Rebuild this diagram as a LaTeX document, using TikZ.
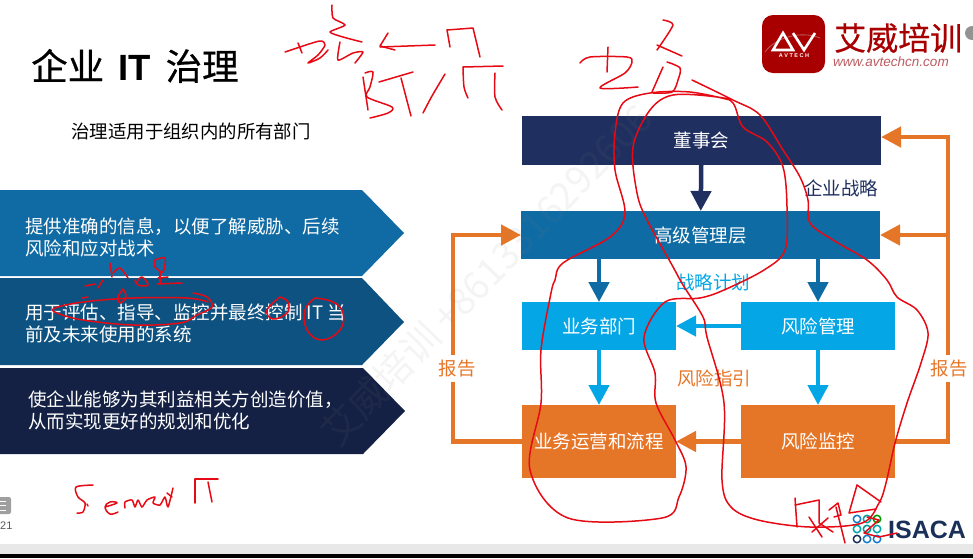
\documentclass[tikz,border=0pt]{standalone}
\usepackage{fontspec}
\setmainfont{Noto Sans CJK SC}
\newfontfamily\latinfont{Liberation Sans}
\newfontfamily\titlefont[FakeBold=0.6]{Noto Sans CJK SC}
\usetikzlibrary{arrows.meta,positioning}
\definecolor{avnavy}{RGB}{31,47,95}
\definecolor{avblue}{RGB}{15,107,163}
\definecolor{avcyan}{RGB}{5,166,229}
\definecolor{avorange}{RGB}{229,118,40}
\definecolor{chevblue}{RGB}{16,106,163}
\definecolor{chevteal}{RGB}{13,82,128}
\definecolor{chevnavy}{RGB}{21,33,68}
\definecolor{avred}{RGB}{168,0,0}
\definecolor{avurl}{RGB}{188,90,95}
\definecolor{isacanavy}{RGB}{27,48,88}
\definecolor{inkred}{RGB}{230,10,20}
\tikzstyle{boxnode} = [minimum width=154pt,inner sep=0pt,outer sep=0pt,text=white,text height=16pt,text depth=2pt,font=\fontsize{18.5}{22}\selectfont]
\tikzstyle{chevtext} = [anchor=west,align=left,inner sep=0pt,text=white,font=\fontsize{18.5}{22}\selectfont]
\tikzstyle{flowlabel} = [inner sep=0pt,font=\fontsize{18.5}{22}\selectfont]
\tikzstyle{arrow} = [line width=4.5pt,-{Triangle[length=20pt,width=20pt]}]
\tikzstyle{busline} = [line width=4.5pt,avorange]
\tikzstyle{ink} = [inkred,line width=1.5pt,line cap=round,line join=round]

\begin{document}
\begin{tikzpicture}[x=1pt,y=-1pt]
\useasboundingbox (0,0) rectangle (973,558);

% Title
\node[inner sep=0pt,anchor=west,font=\fontsize{36.5}{40}\selectfont] (title) at (31,66) {\titlefont 企业\hspace{14pt}{\latinfont\bfseries IT}\hspace{15pt}治理};
\node[inner sep=0pt,font=\fontsize{18.4}{22}\selectfont] (subtitle) at (191,132) {治理适用于组织内的所有部门};

% Chevrons
\fill[chevblue] (0,190) -- (362,190) -- (404,233) -- (362,276) -- (0,276) -- cycle;
\fill[chevteal] (0,278) -- (362,278) -- (404,322) -- (362,365) -- (0,365) -- cycle;
\fill[chevnavy] (0,368) -- (363,368) -- (405,411) -- (363,454) -- (0,454) -- cycle;
\node[chevtext] (chevone) at (25,237) {提供准确的信息，以便了解威胁、后续\\风险和应对战术};
\node[chevtext] (chevtwo) at (25,323) {用于评估、指导、监控并最终控制 IT 当\\前及未来使用的系统};
\node[chevtext] (chevthree) at (28,410) {使企业能够为其利益相关方创造价值，\\从而实现更好的规划和优化};

% Boxes
\node[boxnode,fill=avnavy,minimum width=359pt,minimum height=49pt] (board) at (701.5,140.5) {董事会};
\node[boxnode,fill=avblue,minimum width=359pt,minimum height=48pt] (senior) at (700.5,235) {高级管理层};
\node[boxnode,fill=avcyan,minimum height=48pt] (bizunit) at (599,326) {业务部门};
\node[boxnode,fill=avcyan,minimum height=48pt] (riskmgmt) at (818,326) {风险管理};
\node[boxnode,fill=avorange,minimum height=73pt] (bizops) at (599,441.5) {业务运营和流程};
\node[boxnode,fill=avorange,minimum height=73pt] (riskmon) at (818,441.5) {风险监控};

% Labels
\node[flowlabel,avnavy] (strategy) at (841,188) {企业战略};
\node[flowlabel,avcyan] (plan) at (713,282) {战略计划};
\node[flowlabel,avorange] (guide) at (714,378) {风险指引};
\node[flowlabel,avorange] (reportl) at (457,369) {报告};
\node[flowlabel,avorange] (reportr) at (949,369) {报告};

% Inner arrows
\draw[arrow,avnavy] (board) -- (senior);
\draw[arrow,avblue] (bizunit |- senior.south) -- (bizunit);
\draw[arrow,avblue] (riskmgmt |- senior.south) -- (riskmgmt);
\draw[arrow,avcyan] (riskmgmt) -- (bizunit);
\draw[arrow,avcyan] (bizunit) -- (bizops);
\draw[arrow,avcyan] (riskmgmt) -- (riskmon);
\draw[arrow,avorange] (riskmon) -- (bizops);

% Report loops
\coordinate (leftlow) at (453,382);
\coordinate (lefthigh) at (453,355);
\coordinate (rightlow) at (948,382);
\coordinate (righthigh) at (948,355);
\draw[busline,line join=miter] (bizops.west) -| (leftlow);
\draw[arrow,avorange] (lefthigh) |- (senior.west);
\draw[busline,line join=miter] (riskmon.east) -| (rightlow);
\draw[arrow,avorange] (righthigh) |- ([yshift=3.5pt]board.east);
\draw[arrow,avorange] (righthigh |- senior.east) -- (senior.east);

% Watermark
\node[rotate=46,inner sep=0pt,gray,opacity=0.09,font=\fontsize{38}{40}\selectfont] (mark) at (486,275) {艾威培训 +8613316292606};

% AVTECH logo
\fill[avred,rounded corners=11pt] (762,15) rectangle (825,73);
\draw[white,line width=2.6pt,line join=miter] (773,50) -- (783,33) -- (793,50) -- cycle;
\draw[white,line width=2.6pt] (793,33) -- (804,50) -- (815,33);
\draw[white,opacity=0.35,line width=0.8pt] (765,52) .. controls (775,38) and (800,30) .. (820,38);
\node[white,inner sep=0pt,font=\latinfont\fontsize{5.5}{6}\selectfont\bfseries] (avtech) at (794,56) {A V T E C H};
\node[avred,inner sep=0pt,anchor=west,font=\fontsize{32}{34}\selectfont] (brand) at (834,38) {\titlefont 艾威培训};
\node[avurl,inner sep=0pt,anchor=west,font=\latinfont\fontsize{13.5}{15}\selectfont\itshape] (url) at (833,62) {www.avtechcn.com};
\fill[gray!85] (972,33) circle (7);

% ISACA logo
\foreach \x/\colA/\colB/\colC in {857/cyan!60!blue/teal!70!cyan/isacanavy,867/teal!70!cyan/teal!80!cyan/cyan!60!blue,877/green!60!black/teal!70!cyan/cyan!60!blue} {
    \draw[\colA,line width=1.5pt] (\x,519) circle (3.7);
    \draw[\colB,line width=1.5pt] (\x,529) circle (3.7);
    \draw[\colC,line width=1.5pt] (\x,539) circle (3.7);
}
\node[isacanavy,inner sep=0pt,anchor=west,font=\latinfont\fontsize{25}{28}\selectfont\bfseries] (isaca) at (888,530) {ISACA};

% Page number
\fill[gray!75,rounded corners=2pt] (-4,497) rectangle (11,514);
\draw[white,line width=0.8pt] (0,501) -- (6,501) (0,505.5) -- (6,505.5) (0,510) -- (6,510);
\node[inner sep=0pt,anchor=west,gray!70!black,font=\latinfont\fontsize{11}{12}\selectfont] (pagenum) at (0,526) {21};

% Window edge
\fill[black!9] (0,544) rectangle (973,554);
\fill[black] (0,554) rectangle (973,558);

% Red ink: long loop
\draw[ink] plot[smooth,tension=0.55] coordinates {(692,80) (733,100) (760,115) (783,150) (800,177) (808,200) (810,223) (833,240) (867,260) (887,280) (897,297) (917,310) (928,333) (921,363) (907,403) (895,443) (886,483) (879,503) (862,523) (810,527) (758,520) (731,507) (722,480) (724,403) (707,337) (703,317) (683,285) (672,265) (647,220) (637,193) (633,147) (650,110) (673,95) (717,97) (733,103) (743,127) (767,142) (783,167) (787,207) (785,250) (764,270) (724,290) (700,298) (665,302) (644,337) (655,373) (656,403) (675,440) (686,467) (679,497) (662,518) (568,518) (530,470) (541,403) (541,350) (551,293) (555,280) (563,263) (610,237) (625,213) (615,170) (615,133) (623,103) (650,93) (690,92) (730,100)};

% Red ink: top left note
\draw[ink] plot[smooth,tension=0.5] coordinates {(285,52) (300,47) (320,41) (325,45) (318,55) (308,63) (320,58) (328,50)};
\draw[ink] (298,43) -- (302,53);
\draw[ink] plot[smooth,tension=0.4] coordinates {(332,5) (333,18) (345,25) (330,32) (343,37) (362,42)};
\draw[ink] plot[smooth,tension=0.4] coordinates {(340,42) (338,60) (353,53) (363,52) (355,63)};
\draw[ink] (435,45) -- (380,47);
\draw[ink] (388,33) -- (380,46) -- (395,50);
\draw[ink] (447,30) -- (450,47);
\draw[ink] (447,30) -- (473,28) -- (480,57);
\draw[ink] (363,77) -- (368,110);
\draw[ink] plot[smooth,tension=0.5] coordinates {(365,73) (373,72) (370,87) (367,97) (392,107) (388,113) (370,118)};
\draw[ink] (379,82) -- (413,72);
\draw[ink] (401,78) -- (411,116);
\draw[ink] plot[smooth,tension=0.5] coordinates {(445,74) (432,96) (423,113)};
\draw[ink] plot[smooth,tension=0.5] coordinates {(463,67) (464,87) (468,98)};
\draw[ink] (463,67) -- (503,66);
\draw[ink] plot[smooth,tension=0.5] coordinates {(495,73) (495,97) (502,110)};

% Red ink: top right note
\draw[ink] plot[smooth,tension=0.5] coordinates {(580,63) (590,57) (627,57) (632,62) (625,73) (600,88) (638,87)};
\draw[ink] (608,47) -- (607,72);
\draw[ink] plot[smooth,tension=0.4] coordinates {(663,20) (673,25) (657,50)};
\draw[ink] (657,45) -- (682,56);
\draw[ink] plot[smooth,tension=0.5] coordinates {(667,62) (680,68) (678,80) (672,92) (653,93)};
\draw[ink] (663,67) -- (652,92);

% Red ink: chevron marks
\draw[ink] plot[smooth,tension=0.6] coordinates {(193,293) (207,297) (212,307) (197,315) (180,323) (133,325) (83,320) (57,313) (55,308) (83,302) (133,298) (187,298) (208,302)};
\draw[ink] plot[smooth,tension=0.7] coordinates {(123,289) (118,297) (120,303) (126,297) (123,289)};
\draw[ink] plot[smooth,tension=0.7] coordinates {(280,297) (267,310) (273,319) (287,313) (288,302) (280,297)};
\draw[ink] plot[smooth,tension=0.7] coordinates {(315,298) (305,310) (307,330) (322,340) (340,330) (343,313) (333,302) (315,298)};
\draw[ink] (85,286) -- (95,284);
\draw[ink] (82,298) -- (88,297);
\draw[ink] (103,280) -- (98,288);
\draw[ink] (110,263) -- (112,277);
\draw[ink] plot[smooth,tension=0.5] coordinates {(113,273) (120,268) (128,278)};
\draw[ink] plot[smooth,tension=0.7] coordinates {(137,282) (142,277) (148,285) (138,285) (135,280)};
\draw[ink] plot[smooth,tension=0.5] coordinates {(155,260) (165,258) (163,272) (155,267) (155,260)};
\draw[ink] (160,272) -- (160,283);
\draw[ink] (158,278) -- (168,277);
\draw[ink] (157,284) -- (182,283);

% Red ink: bottom left note
\draw[ink] plot[smooth,tension=0.5] coordinates {(93,485) (76,487) (78,497) (85,503) (83,512) (77,513)};
\draw[ink] (87,504) -- (88,506);
\draw[ink] plot[smooth,tension=0.7] coordinates {(105,507) (117,503) (110,502) (105,507) (110,514) (118,512)};
\draw[ink] plot[smooth,tension=0.4] coordinates {(125,508) (125,502) (132,500) (135,507) (138,500) (142,507) (147,500) (155,497) (153,503) (160,505) (165,497) (168,507) (173,488)};
\draw[ink] (167,493) -- (172,497);
\draw[ink] (195,479) -- (195,503);
\draw[ink] (195,479) -- (218,479);
\draw[ink] (208,482) -- (212,502);

% Red ink: bottom right note
\draw[ink] (795,498) -- (797,527);
\draw[ink] (795,505) -- (819,500) -- (819,523) -- (833,532);
\draw[ink] (809,517) -- (822,537);
\draw[ink] (812,532) -- (828,518);
\draw[ink] (829,510) -- (838,503) -- (841,515) -- (834,517);
\draw[ink] (836,507) -- (845,543);
\draw[ink] (857,485) -- (881,502);
\draw[ink] (857,485) -- (849,513) -- (876,509);
\draw[ink] (867,517) -- (879,520) -- (864,533) -- (879,537) -- (897,533);
\end{tikzpicture}
\end{document}
